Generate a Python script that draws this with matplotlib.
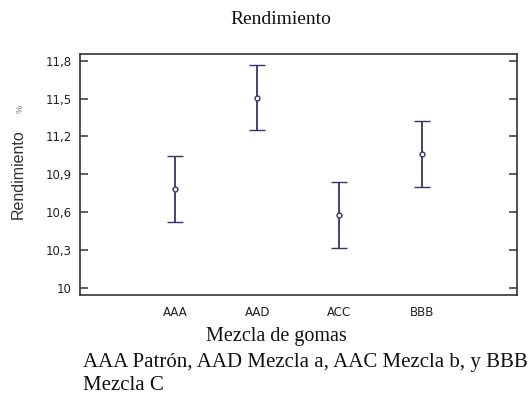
import matplotlib
matplotlib.use("Agg")
import matplotlib.pyplot as plt
import numpy as np

categories = ["AAA", "AAD", "ACC", "BBB"]
means = [10.786, 11.502, 10.579, 11.059]
lower = [10.526, 11.254, 10.321, 10.800]
upper = [11.046, 11.764, 10.838, 11.320]
yticks = [10.0, 10.3, 10.6, 10.9, 11.2, 11.5, 11.8]
ytick_labels = ["10", "10,3", "10,6", "10,9", "11,2", "11,5", "11,8"]

W, H = 532, 404
fig = plt.figure(figsize=(W / 100, H / 100), dpi=100)
fig.patch.set_facecolor("white")

ax = fig.add_axes([80 / W, (H - 295) / H, 436.7 / W, 241 / H])
x = np.arange(1, len(categories) + 1)
m = np.array(means)
err = np.vstack([m - np.array(lower), np.array(upper) - m])
col = "#34346c"
ax.errorbar(x, m, yerr=err, fmt="o", color=col, ecolor=col, elinewidth=1.3,
            capsize=5.8, capthick=1.3, markersize=3.5, markerfacecolor="white",
            markeredgecolor=col, markeredgewidth=1.0)

ax.set_xlim(-0.156, 5.156)
ax.set_ylim(9.945, 11.853)
ax.set_xticks(x)
ax.set_xticklabels(categories, fontsize=8.5, family="DejaVu Sans", color="#222222")
ax.set_yticks(yticks)
ax.set_yticklabels(ytick_labels, fontsize=8.5, family="DejaVu Sans", color="#222222")
ax.tick_params(axis="x", length=0, pad=8)
ax.tick_params(axis="y", direction="in", length=5.8, width=1.1, color="#333333",
               right=True, pad=6)
for s in ax.spines.values():
    s.set_linewidth(1.2)
    s.set_color("#333333")

ax.set_ylabel("Rendimiento", fontsize=11.5, family="Liberation Sans", color="#333333")
ax.yaxis.set_label_coords(-0.1234, 0.502)
fig.text(20 / W, 1 - 109 / H, "%", rotation=90, fontsize=6.5, color="#777777",
         family="Liberation Sans", ha="center", va="center")

fig.text(281 / W, 1 - 20 / H, "Rendimiento", fontsize=14, family="Liberation Serif",
         ha="center", va="center", color="#111111")
fig.text(276 / W, 1 - 337 / H, "Mezcla de gomas", fontsize=14.5, family="Liberation Serif",
         ha="center", va="center", color="#111111")
fig.text(83 / W, 1 - 362 / H, "AAA Patrón, AAD Mezcla a, AAC Mezcla b, y BBB",
         fontsize=15, family="Liberation Serif", ha="left", va="center", color="#111111")
fig.text(83 / W, 1 - 385 / H, "Mezcla C",
         fontsize=15, family="Liberation Serif", ha="left", va="center", color="#111111")

fig.savefig("out.png", dpi=100, facecolor="white")
